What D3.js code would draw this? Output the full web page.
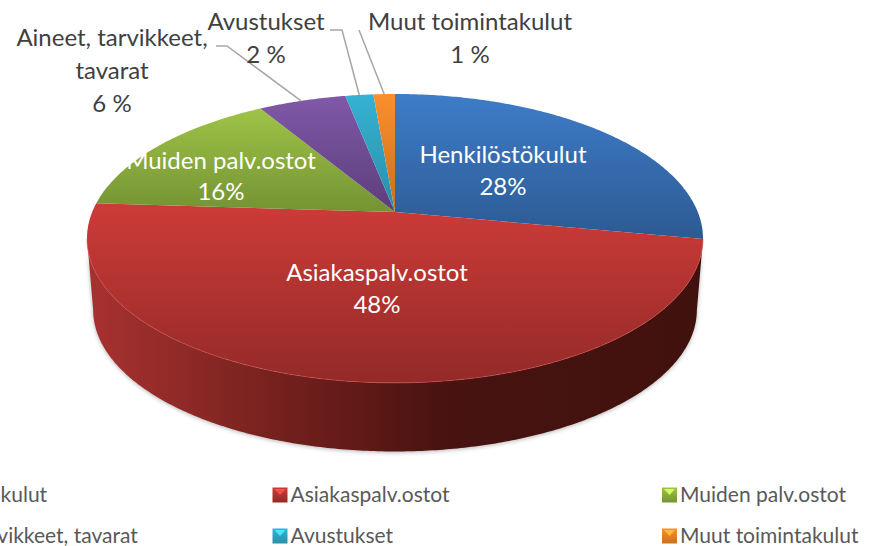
<!DOCTYPE html>
<html><head><meta charset="utf-8">
<script src="https://cdnjs.cloudflare.com/ajax/libs/d3/7.8.5/d3.min.js"></script>
<style>html,body{margin:0;background:#fff;overflow:hidden}svg{display:block}text{font-family:Lato,"Open Sans",sans-serif}</style>
</head><body><svg id="c" width="875" height="546"></svg>
<script>
const categories=["Henkilöstökulut","Asiakaspalv.ostot","Muiden palv.ostot","Aineet, tarvikkeet, tavarat","Avustukset","Muut toimintakulut"];
const values=[28,48,15.4,5.5,1.75,1.35];
const percentLabels=["28%","48%","16%","6 %","2 %","1 %"];
const topLight=["#3e7cc9","#cd3b38","#9fc346","#8058a8","#35b2d3","#fb8f2c"];
const topDark=["#2c5a92","#932a28","#749334","#5c3e7b","#2a8ea8","#c9701f"];

const svg=d3.select("#c"),defs=svg.append("defs");
const color=d3.scaleOrdinal(categories,d3.range(6));
const pie=d3.pie().sort(null).startAngle(0).endAngle(2*Math.PI);
const arcs=pie(values);
const cx=395,cy=212,R=302.8,S=139.6,p=0.183,depth=72;
function proj(t,k=1,dy=0){const u=Math.sin(t),v=-Math.cos(t),w=1-p*v;return [cx+k*R*u/w,cy+dy+k*S*v/w];}
const line=d3.line();
const sweep=(a,b,k,dy)=>{const n=Math.max(2,Math.ceil((b-a)/0.01));return d3.range(n+1).map(i=>proj(a+(b-a)*i/n,k,dy));};

categories.forEach((c,i)=>{
  const g=defs.append("linearGradient").attr("id","top"+i).attr("x1",0).attr("y1",0).attr("x2",0).attr("y2",1);
  g.append("stop").attr("offset",0).attr("stop-color",topLight[i]);
  g.append("stop").attr("offset",1).attr("stop-color",topDark[i]);
});
const wg=defs.append("linearGradient").attr("id","wall").attr("gradientUnits","userSpaceOnUse").attr("x1",90).attr("x2",700).attr("y1",0).attr("y2",0);
[[0,"#a83130"],[.15,"#8f2a27"],[.3,"#76211e"],[.45,"#5f1916"],[.58,"#481310"],[1,"#40110e"]].forEach(s=>wg.append("stop").attr("offset",s[0]).attr("stop-color",s[1]));
const blur=defs.append("filter").attr("id","sh").attr("x","-5%").attr("y","-5%").attr("width","110%").attr("height","110%");
blur.append("feGaussianBlur").attr("stdDeviation",2);

// side wall of the big slice only
const r=arcs[1];
const wallEnd=Math.PI*2-Math.acos(-p); // left silhouette of the ellipse
const wallPts=sweep(r.startAngle,wallEnd,1,0).concat(sweep(r.startAngle,wallEnd,0.98,depth).reverse());
svg.append("path").attr("d",line(wallPts)+"Z").attr("fill","#777").attr("opacity",.55).attr("filter","url(#sh)").attr("transform","translate(0,1)");
svg.append("path").attr("d",line(wallPts)+"Z").attr("fill","url(#wall)");

// top faces
svg.append("g").selectAll("path").data(arcs).join("path")
  .attr("d",d=>line([[cx,cy],...sweep(d.startAngle,d.endAngle,1,0)])+"Z")
  .attr("fill",(d,i)=>`url(#top${color(categories[i])})`);
// rim highlight
svg.append("path").attr("d",line(sweep(r.startAngle,wallEnd,1,0))).attr("fill","none").attr("stroke","#d9514e").attr("stroke-opacity",.55).attr("stroke-width",1);

// leader lines
const leaders=[[3,[[216,46],[227,46]]],[4,[[330,30],[342,30]]],[5,[[359,30]]]];
svg.append("g").selectAll("path").data(leaders).join("path")
  .attr("d",d=>{const a=arcs[d[0]];return line([...d[1],proj((a.startAngle+a.endAngle)/2+(d[0]===3?-0.004:0),1,0)]);})
  .attr("fill","none").attr("stroke","#a6a6a6").attr("stroke-width",1.5);

// data labels
const lab=[
 {i:0,x:503,ys:[163,195],w:1},{i:1,x:377,ys:[281,313],w:1},{i:2,x:221,ys:[169,200],w:1},
 {i:3,x:112,ys:[46,79,112],w:0,lines:["Aineet, tarvikkeet,","tavarat"]},
 {i:4,x:266,ys:[30,63],w:0},{i:5,x:470,ys:[30,63],w:0}];
lab.forEach(l=>{
  const rows=[...(l.lines||[categories[l.i]]),percentLabels[l.i]];
  rows.forEach((t,k)=>svg.append("text").attr("x",l.x).attr("y",l.ys[k]).attr("text-anchor","middle")
    .attr("font-size",24).attr("fill",l.w?"#fff":"#404040").text(t));
});

// legend
const colX=d3.scaleLinear().domain([0,1]).range([-117,272.5]);
const rowY=d3.scaleLinear().domain([0,1]).range([495,536]);
const legend=svg.append("g").selectAll("g").data(categories).join("g")
  .attr("transform",(d,i)=>`translate(${colX(i%3)},${rowY(Math.floor(i/3))})`);
legend.append("rect").attr("x",0).attr("y",-7.5).attr("width",15).attr("height",15).attr("fill",(d,i)=>`url(#top${i})`);
legend.append("path").attr("d",d3.line()([[2,-6],[13,-6],[7.5,0]])+"Z").attr("fill",(d,i)=>topLight[i]).attr("style","filter:brightness(1.3)");
legend.append("text").attr("x",18).attr("y",7).attr("font-size",21).attr("fill","#595959").text(d=>d);
</script></body></html>
